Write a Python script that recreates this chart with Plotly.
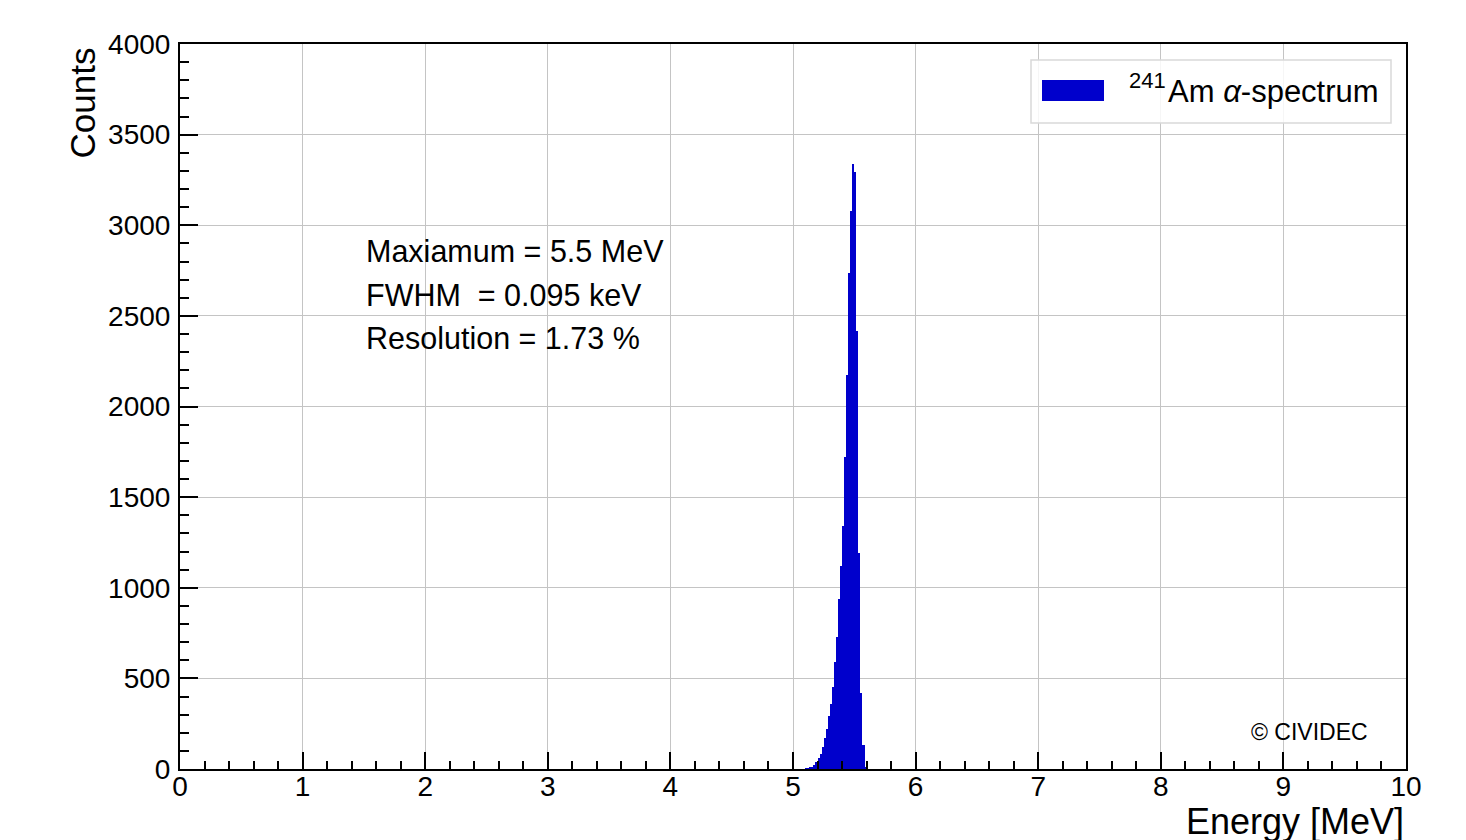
import plotly.graph_objects as go

# Histogram data: bin width 1/60 MeV, bins indexed by k (left edge = k/60 MeV)
bin_width = 1.0 / 60.0
first_bin = 306
counts = [3, 5, 8, 10, 22, 40, 62, 83, 123, 169, 219, 292, 359, 454, 592,
          726, 936, 1120, 1343, 1720, 2174, 2738, 3079, 3338, 3296, 2418,
          1193, 419, 132, 8]
bin_centers = [(first_bin + i + 0.5) * bin_width for i in range(len(counts))]

x_ticks = list(range(0, 11))
y_ticks = list(range(0, 4001, 500))

info_lines = ["Maxiamum = 5.5 MeV", "FWHM\u00a0\u00a0= 0.095 keV", "Resolution = 1.73 %"]
legend_sup = "241"
legend_label = "Am <i>\u03b1</i>-spectrum"

FONT = "Liberation Sans, Arial, sans-serif"
BLUE = "#0000CC"

fig = go.Figure()
fig.add_trace(go.Bar(x=bin_centers, y=counts, width=bin_width,
                     marker=dict(color=BLUE, line=dict(width=0)),
                     name="241Am", showlegend=False))

# page body has an 8px margin; target page coordinates below
OFF = 8
W, H = 1466 - OFF, 840 - OFF
L, R, T, B = 180 - OFF, 60, 44 - OFF, 71
pw, ph = W - L - R, H - T - B

def px(xp):  # page x -> paper
    return (xp - 180) / pw

def py(yp):  # page y -> paper
    return (769 - yp) / ph

axis_common = dict(showline=True, linecolor="black", linewidth=2, mirror=True,
                   ticks="inside", tickcolor="black", tickwidth=2,
                   showgrid=True, gridcolor="#c4c4c4", gridwidth=1,
                   zeroline=False, tickfont=dict(family=FONT, size=28, color="black"))

fig.update_xaxes(range=[0, 10], tickvals=x_ticks, ticklen=17, ticklabelstandoff=-9,
                 minor=dict(ticks="inside", ticklen=8, dtick=0.2, tickcolor="black",
                            tickwidth=1.5, showgrid=False),
                 **axis_common)
fig.update_yaxes(range=[0, 4000], tickvals=y_ticks, ticklen=18, ticklabelstandoff=2,
                 minor=dict(ticks="inside", ticklen=9, dtick=100, tickcolor="black",
                            tickwidth=1.5, showgrid=False),
                 **axis_common)

annotations = []
for i, line in enumerate(info_lines):
    annotations.append(dict(x=px(364), y=py(251 + i * 43.5), xref="paper", yref="paper",
                            text=line, showarrow=False, xanchor="left", yanchor="middle",
                            font=dict(family=FONT, size=30.5, color="black")))
annotations.append(dict(x=px(1370), y=py(732), xref="paper", yref="paper",
                        text="\u00a9 CIVIDEC", showarrow=False, xanchor="right",
                        yanchor="middle", font=dict(family=FONT, size=23, color="black")))
annotations.append(dict(x=1.0, y=py(821), xref="paper", yref="paper",
                        text="Energy [MeV]", showarrow=False, xanchor="right",
                        yanchor="middle", font=dict(family=FONT, size=36, color="black")))
annotations.append(dict(x=px(82), y=py(46), xref="paper", yref="paper",
                        text="Counts", showarrow=False, textangle=-90, xanchor="center",
                        yanchor="top", font=dict(family=FONT, size=35, color="black")))
# legend
annotations.append(dict(x=px(1127), y=py(81), xref="paper", yref="paper",
                        text=legend_sup, showarrow=False, xanchor="left",
                        yanchor="middle", font=dict(family=FONT, size=22, color="black")))
annotations.append(dict(x=px(1166), y=py(91), xref="paper", yref="paper",
                        text=legend_label, showarrow=False, xanchor="left",
                        yanchor="middle", font=dict(family=FONT, size=31, color="black")))

shapes = [
    dict(type="rect", xref="paper", yref="paper", x0=px(1031), x1=px(1391),
         y0=py(123), y1=py(60), line=dict(color="#d9d9d9", width=1.5),
         fillcolor="rgba(255,255,255,0.85)", layer="above"),
    dict(type="rect", xref="paper", yref="paper", x0=px(1042), x1=px(1104),
         y0=py(101), y1=py(80), line=dict(color=BLUE, width=0),
         fillcolor=BLUE, layer="above"),
]

fig.update_layout(width=W, height=H, margin=dict(l=L, r=R, t=T, b=B),
                  paper_bgcolor="white", plot_bgcolor="white", bargap=0,
                  showlegend=False, annotations=annotations, shapes=shapes)

fig.write_html("out.html")
